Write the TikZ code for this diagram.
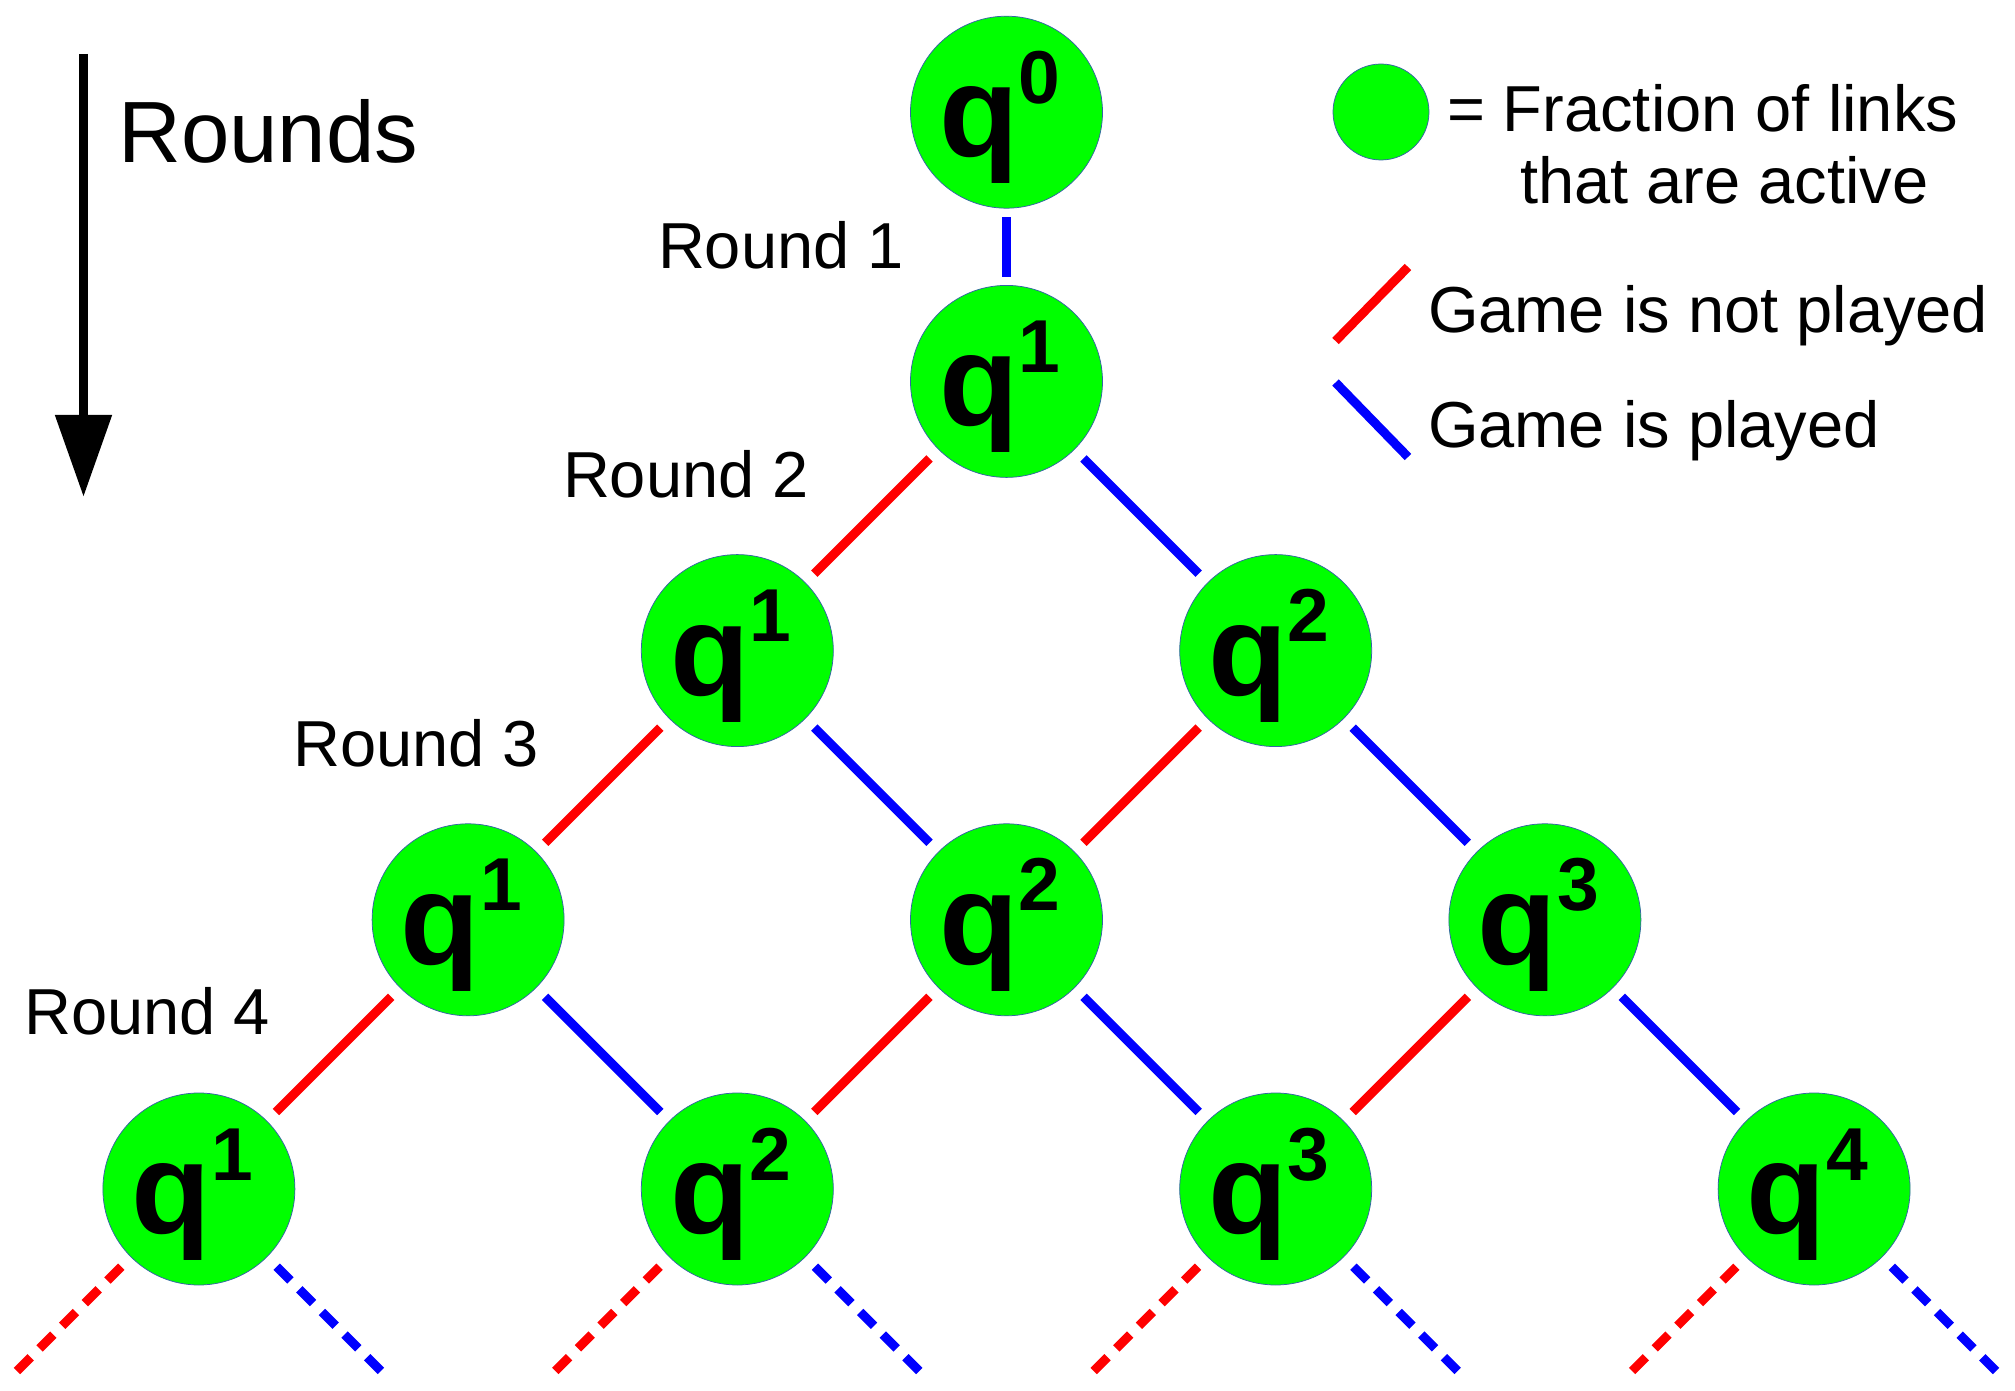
\documentclass[tikz,border=0pt]{standalone}
\usepackage{fontspec}
\setmainfont{Liberation Sans}
\usetikzlibrary{calc,arrows.meta}
\definecolor{qgreen}{RGB}{0,255,0}
\definecolor{qedge}{RGB}{52,101,164}
\definecolor{lred}{RGB}{255,0,0}
\definecolor{lblue}{RGB}{0,0,255}
\newcommand{\qtxt}[1]{{\fontsize{52pt}{52pt}\selectfont\bfseries q}\raisebox{21.4pt}{\fontsize{30pt}{30pt}\selectfont\bfseries #1}}
\begin{document}
\begin{tikzpicture}[x=0.4pt,y=-0.4pt,
  qnode/.style={circle,fill=qgreen,draw=qedge,line width=0.3pt,minimum size=76.8pt,inner sep=0pt},
  qlabel/.style={anchor=base west,inner sep=0pt,outer sep=0pt},
  txt/.style={anchor=base west,inner sep=0pt,outer sep=0pt,font=\fontsize{26pt}{31pt}\selectfont},
  notplayed/.style={draw=lred,line width=3.6pt,shorten <=5pt,shorten >=5pt},
  played/.style={draw=lblue,line width=3.6pt,shorten <=5pt,shorten >=5pt},
  dashnot/.style={draw=lred,line width=3.6pt,shorten <=5.4pt,dash pattern=on 7.8pt off 5pt},
  dashplayed/.style={draw=lblue,line width=3.6pt,shorten <=5.4pt,dash pattern=on 7.8pt off 5pt},
  legline/.style={line width=3.6pt}
]
\useasboundingbox (0,0) rectangle (2015,1391);

% nodes
\node[qnode] (n0)  at (1006.5,112.2) {};
\node[qnode] (n1)  at (1006.5,381.4) {};
\node[qnode] (n21) at (737.3,650.6) {};
\node[qnode] (n22) at (1275.7,650.6) {};
\node[qnode] (n31) at (468.1,919.8) {};
\node[qnode] (n32) at (1006.5,919.8) {};
\node[qnode] (n33) at (1544.9,919.8) {};
\node[qnode] (n41) at (198.9,1189) {};
\node[qnode] (n42) at (737.3,1189) {};
\node[qnode] (n43) at (1275.7,1189) {};
\node[qnode] (n44) at (1814.1,1189) {};

% labels
\node[qlabel] (l0)  at ($(n0)+(-67.3,44.5)$)  {\qtxt{0}};
\node[qlabel] (l1)  at ($(n1)+(-67.3,44.5)$)  {\qtxt{1}};
\node[qlabel] (l21) at ($(n21)+(-67.3,44.5)$) {\qtxt{1}};
\node[qlabel] (l22) at ($(n22)+(-67.3,44.5)$) {\qtxt{2}};
\node[qlabel] (l31) at ($(n31)+(-67.3,44.5)$) {\qtxt{1}};
\node[qlabel] (l32) at ($(n32)+(-67.3,44.5)$) {\qtxt{2}};
\node[qlabel] (l33) at ($(n33)+(-67.3,44.5)$) {\qtxt{3}};
\node[qlabel] (l41) at ($(n41)+(-67.3,44.5)$) {\qtxt{1}};
\node[qlabel] (l42) at ($(n42)+(-67.3,44.5)$) {\qtxt{2}};
\node[qlabel] (l43) at ($(n43)+(-67.3,44.5)$) {\qtxt{3}};
\node[qlabel] (l44) at ($(n44)+(-67.3,44.5)$) {\qtxt{4}};

% connectors
\draw[draw=lblue,line width=3.6pt,shorten <=3.4pt,shorten >=3.4pt] (n0) -- (n1);
\draw[notplayed] (n1) -- (n21);
\draw[played] (n1) -- (n22);
\draw[notplayed] (n21) -- (n31);
\draw[played] (n21) -- (n32);
\draw[notplayed] (n22) -- (n32);
\draw[played] (n22) -- (n33);
\draw[notplayed] (n31) -- (n41);
\draw[played] (n31) -- (n42);
\draw[notplayed] (n32) -- (n42);
\draw[played] (n32) -- (n43);
\draw[notplayed] (n33) -- (n43);
\draw[played] (n33) -- (n44);

% dashed continuations
\foreach \k in {41,42,43,44}{
  \coordinate (e\k l) at ($(n\k)+(-182.4,182.4)$);
  \coordinate (e\k r) at ($(n\k)+(182.4,182.4)$);
  \draw[dashnot] (n\k) -- (e\k l);
  \draw[dashplayed] (n\k) -- (e\k r);
}

% rounds arrow
\coordinate (atop) at (83.5,54);
\coordinate (abot) at (83.5,496.7);
\draw[line width=3.4pt,-{Triangle[length=32.7pt,width=22pt]}] (atop) -- (abot);
\node[txt,font=\fontsize{34.8pt}{40pt}\selectfont] (trounds) at (118.2,162.3) {Rounds};

% round labels
\node[txt] (r1) at (658,268.3) {Round 1};
\node[txt] (r2) at (563,497.5) {Round 2};
\node[txt] (r3) at (293.4,766.3) {Round 3};
\node[txt] (r4) at (24.5,1034.7) {Round 4};

% legend
\node[qnode,minimum size=38.4pt] (leg) at (1381,112) {};
\node[txt] (lt1) at (1447,131.7) {= Fraction of links};
\node[txt] (lt2) at (1520,204) {that are active};
\coordinate (ra) at (1335.5,341);
\coordinate (rb) at (1408,267);
\draw[legline,draw=lred] (ra) -- (rb);
\coordinate (ba) at (1335.5,382.5);
\coordinate (bb) at (1408,457);
\draw[legline,draw=lblue] (ba) -- (bb);
\node[txt] (lt3) at (1428,333) {Game is not played};
\node[txt] (lt4) at (1428,448) {Game is played};
\end{tikzpicture}
\end{document}
